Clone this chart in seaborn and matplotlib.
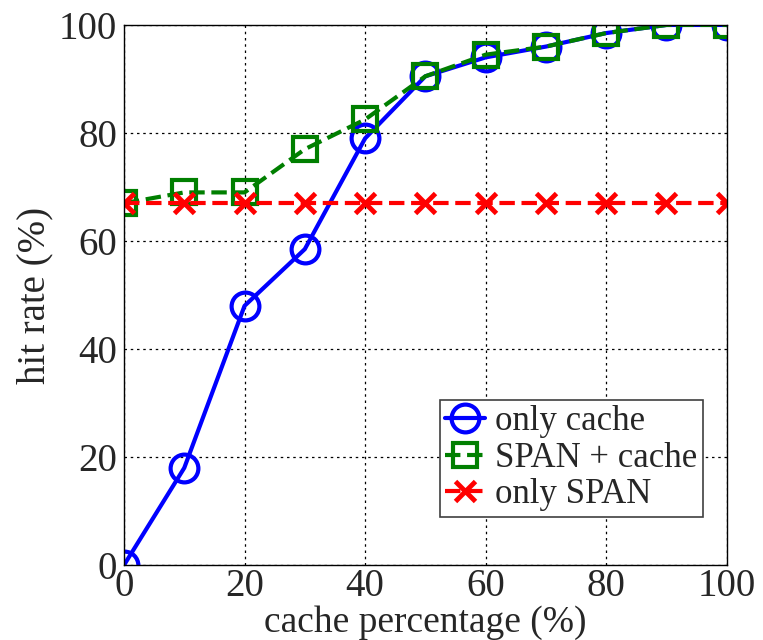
import matplotlib
matplotlib.use("Agg")
import matplotlib.pyplot as plt
import seaborn as sns
import pandas as pd

#---------------- data ----------------
cache_pct = [0, 10, 20, 30, 40, 50, 60, 70, 80, 90, 100]
only_cache = [0, 18, 48, 58.5, 79, 90.5, 94, 96, 98.5, 100, 100]
span_cache = [67, 69, 69, 77, 82.5, 90.5, 94.5, 96, 98.5, 100, 100]
only_span = [67, 67, 67, 67, 67, 67, 67, 67, 67, 67, 67]

df = pd.DataFrame({'pct': cache_pct, 'only cache': only_cache,
                   'SPAN + cache': span_cache, 'only SPAN': only_span})

#---------------- style ----------------
sns.set_style("white")
plt.rcParams['font.family'] = ['Liberation Serif', 'DejaVu Serif']

fig = plt.figure(figsize=(7.63, 6.4), dpi=100)
ax = fig.add_axes([0.1625, 0.117, 0.79, 0.844])

sns.lineplot(x='pct', y='only cache', data=df, ax=ax, color='#0000ff', lw=3,
             marker='o', markersize=20, markerfacecolor='none',
             markeredgecolor='#0000ff', markeredgewidth=3, label='only cache')
sns.lineplot(x='pct', y='SPAN + cache', data=df, ax=ax, color='#007f00', lw=3,
             linestyle='--', dashes=(3, 1.5), marker='s', markersize=17,
             markerfacecolor='none', markeredgecolor='#007f00',
             markeredgewidth=3, label='SPAN + cache')
sns.lineplot(x='pct', y='only SPAN', data=df, ax=ax, color='#ff0000', lw=3,
             linestyle='--', dashes=(3, 1.5), marker='x', markersize=15,
             markeredgecolor='#ff0000', markeredgewidth=3.5, label='only SPAN')

ax.set_xlim(0, 100)
ax.set_ylim(0, 100)
ax.set_xticks([0, 20, 40, 60, 80, 100])
ax.set_yticks([0, 20, 40, 60, 80, 100])
ax.tick_params(labelsize=28, direction='in', length=5, width=1, pad=5)
ax.tick_params(axis='x', pad=2)
ax.grid(True, linestyle=(0, (2, 3)), color='black', linewidth=0.9)
for s in ax.spines.values():
    s.set_color('black')
    s.set_linewidth(1)

ax.set_xlabel('cache percentage (%)', fontsize=27, labelpad=0)
ax.set_ylabel('hit rate (%)', fontsize=28, labelpad=4)

leg = ax.legend(loc='lower right', bbox_to_anchor=(0.96, 0.09), fontsize=25,
                frameon=True, fancybox=False, framealpha=1, edgecolor='#404040',
                handlelength=1.15, handletextpad=0.3, borderpad=0.15,
                labelspacing=0.1, borderaxespad=0)
leg.get_frame().set_linewidth(1.2)

fig.savefig('out.png', dpi=100)
